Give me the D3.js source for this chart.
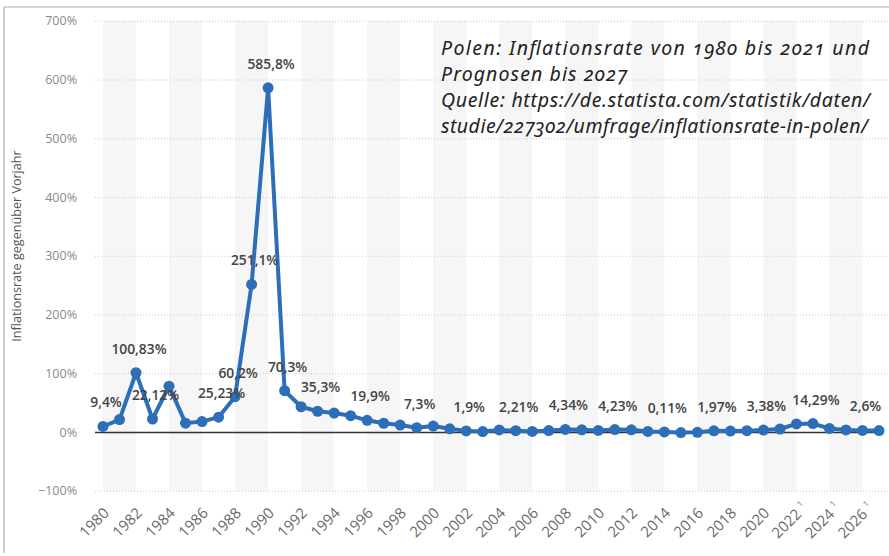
<!DOCTYPE html>
<html lang="de">
<head>
<meta charset="UTF-8">
<title>Polen Inflationsrate</title>
<script src="https://d3js.org/d3.v7.min.js"></script>
<style>
  body { margin: 0; background: #fff; font-family: "Open Sans", sans-serif; }
  svg { display: block; }
</style>
</head>
<body>
<svg id="chart"></svg>
<script>
const width = 889, height = 556;

// ==== data ====
const years = d3.range(1980, 2028);
const rates = [9.4, 21.2, 100.83, 22.12, 78, 15.1, 17.7, 25.23, 60.2, 251.1,
  585.8, 70.3, 43, 35.3, 32.2, 27.8, 19.9, 14.9, 11.8, 7.3,
  10.1, 5.5, 1.9, 0.8, 3.5, 2.21, 1.0, 2.5, 4.34, 3.8,
  2.7, 4.23, 3.7, 0.9, 0.11, -0.9, -0.6, 1.97, 1.6, 2.3,
  3.38, 5.1, 13.8, 14.29, 6.0, 3.6, 2.6, 2.5];
const labelYears = [1980, 1982, 1983, 1987, 1988, 1989, 1990, 1991, 1993, 1996, 1999,
  2002, 2005, 2008, 2011, 2014, 2017, 2020, 2023, 2026];
const yTicks = [-100, 0, 100, 200, 300, 400, 500, 600, 700];
const xTickYears = d3.range(1980, 2027, 2);
const forecastFrom = 2022;
const titleLines = [
  "Polen: Inflationsrate von 1980 bis 2021 und",
  "Prognosen bis 2027",
  "Quelle: https://de.statista.com/statistik/daten/",
  "studie/227302/umfrage/inflationsrate-in-polen/"
];
// rendered widths of the note lines in the reference (px)
const titleWidths = [428, 186, 429, 427];

const data = years.map((y, i) => ({ year: y, value: rates[i] }));

const svg = d3.select("#chart").attr("width", width).attr("height", height);

const x = d3.scaleLinear().domain([1980, 2027]).range([103, 879]);
const y = d3.scaleLinear().domain([-100, 700]).range([490.75, 20.75]);

// outer frame (top + left only visible)
svg.append("line").attr("x1", 4).attr("x2", width).attr("y1", 7).attr("y2", 7)
  .attr("stroke", "#a9a9a9").attr("stroke-width", 1.2);
svg.append("line").attr("x1", 4).attr("x2", 4).attr("y1", 7).attr("y2", 553)
  .attr("stroke", "#a9a9a9").attr("stroke-width", 1.2);

// alternating column bands
const bandStarts = d3.range(1980, 2028, 4);
svg.append("g").selectAll("rect")
  .data(bandStarts)
  .join("rect")
  .attr("x", d => x(d))
  .attr("width", d => Math.min(x(d + 2), width) - x(d))
  .attr("y", y(700))
  .attr("height", y(-100) - y(700))
  .attr("fill", "#f6f6f6");

// grid lines + y labels
const yAxis = d3.axisLeft(y).tickValues(yTicks)
  .tickSize(-(width - 95))
  .tickFormat(d => (d < 0 ? "\u2212" + Math.abs(d) : d) + "%");
const gy = svg.append("g").attr("transform", "translate(95,0)").call(yAxis);
gy.select(".domain").remove();
gy.selectAll(".tick line")
  .attr("stroke", "#c8c8c8").attr("stroke-dasharray", "1,2");
gy.selectAll(".tick text")
  .attr("x", -18).attr("fill", "#8a8a8a")
  .style("font-size", "12.5px").style("font-family", "Open Sans, sans-serif");
gy.selectAll(".tick").filter(d => d === 0).select("line")
  .attr("stroke", "#333").attr("stroke-dasharray", null).attr("stroke-width", 1.5)
  .attr("x2", x(2027) + 2 - 95);

// y axis title
svg.append("text")
  .attr("transform", "translate(21,246) rotate(-90)")
  .attr("text-anchor", "middle")
  .attr("fill", "#555")
  .style("font-size", "12.6px")
  .text("Inflationsrate gegenüber Vorjahr");

// x labels
const xl = svg.append("g").selectAll("text")
  .data(xTickYears)
  .join("text")
  .attr("transform", d => `translate(${x(d) + 7},${514}) rotate(-45)`)
  .attr("text-anchor", "end")
  .attr("fill", "#6a6a6a")
  .style("font-size", "15px");
xl.append("tspan").text(d => d);
xl.filter(d => d >= forecastFrom).append("tspan")
  .attr("dx", 4).attr("dy", -7).style("font-size", "8px").text("1");
xl.filter(d => d >= forecastFrom)
  .attr("transform", d => `translate(${x(d) + 12},${509}) rotate(-45)`);

// line
const line = d3.line().x(d => x(d.year)).y(d => y(d.value));
svg.append("path")
  .datum(data)
  .attr("d", line)
  .attr("fill", "none")
  .attr("stroke", "#2c6eb8")
  .attr("stroke-width", 4)
  .attr("stroke-linejoin", "round");

svg.append("g").selectAll("circle")
  .data(data)
  .join("circle")
  .attr("cx", d => x(d.year))
  .attr("cy", d => y(d.value))
  .attr("r", 5.5)
  .attr("fill", "#2c6eb8");

// value labels
const fmt = v => String(v).replace(".", ",") + "%";
svg.append("g").selectAll("text")
  .data(data.filter(d => labelYears.includes(d.year)))
  .join("text")
  .attr("x", d => x(d.year) + 3)
  .attr("y", d => y(d.value) - 19)
  .attr("text-anchor", "middle")
  .attr("fill", "#444")
  .style("font-size", "13.8px")
  .style("font-weight", 600)
  .text(d => fmt(d.value));

// title / source note
svg.append("g").selectAll("text")
  .data(titleLines)
  .join("text")
  .attr("x", 441)
  .attr("y", (d, i) => 55 + i * 26)
  .attr("textLength", (d, i) => titleWidths[i])
  .attr("lengthAdjust", "spacing")
  .attr("fill", "#222")
  .style("font-family", "Noto Sans, sans-serif")
  .style("font-style", "italic")
  .style("font-size", "19.5px")
  .style("font-feature-settings", "'onum'")
  .text(d => d);
</script>
</body>
</html>
